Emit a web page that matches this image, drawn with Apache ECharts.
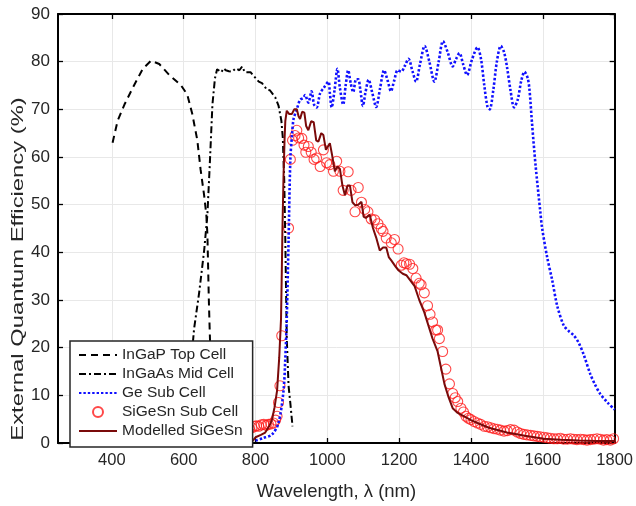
<!DOCTYPE html>
<html>
<head>
<meta charset="utf-8">
<script src="https://cdn.jsdelivr.net/npm/echarts@6/dist/echarts.min.js"></script>
<style>html,body{margin:0;padding:0;background:#fff}#c{width:636px;height:506px}</style>
</head>
<body>
<div id="c"></div>
<script>
const xTicks = [400, 600, 800, 1000, 1200, 1400, 1600, 1800];
const yTicks = [0, 10, 20, 30, 40, 50, 60, 70, 80, 90];
const legendNames = ['InGaP Top Cell', 'InGaAs Mid Cell', 'Ge Sub Cell', 'SiGeSn Sub Cell', 'Modelled SiGeSn'];
const yTitle = 'External Quantum Efficiency (%)';
const xTitle = 'Wavelength, \u03bb (nm)';

const inGaP = [[402,63],[416,67.6],[435,71],[458,74.5],[486,78.5],[509,80.2],[532,79.5],[560,77.2],[592,75.1],[610,73.1],[624,69],[638,63.5],[647,57.4],[657,51.9],[663,47.9],[666,43.8],[668,37],[670,30.1],[672,24.7],[676,15],[680,6],[684,0.5]];

const inGaAs = [[622,18],[629,24],[643,31.5],[657,40.4],[666,47.9],[672,57.4],[680,71],[687,76.5],[693,78.4],[705,77.8],[711,78.6],[717,78.2],[726,78],[735,77.9],[745,78.6],[755,78.2],[763,79],[770,77.8],[775,78.2],[786,77.8],[795,77],[809,75.8],[818,75.5],[832,74.1],[840,74],[855,72.5],[864,70.8],[872,67.6],[876,64],[880,55],[883,42.4],[887,22],[892,12],[897,8.3],[903,3.5]];

const geSub = [[800,0.5],[820,1],[846,1.8],[864,4.2],[878,11],[883,17.9],[887,26],[892,42.4],[897,59.5],[902,65],[906,68],[915,70],[924,72],[933,72.4],[938,73],[947,71.4],[956,73.8],[963,71],[970,70.4],[980,73.4],[990,74.5],[1003,75.8],[1007,73.4],[1012,70.4],[1020,74],[1028,78.5],[1035,74.5],[1044,71],[1051,75],[1058,78.2],[1065,75.5],[1072,73.6],[1080,76.3],[1086,76.3],[1092,74],[1099,70.7],[1106,73.5],[1115,76.2],[1125,73.5],[1136,70.5],[1147,74.5],[1158,78.2],[1168,76],[1177,73.8],[1186,76],[1196,78.2],[1206,77.9],[1215,79],[1226,80.6],[1237,78],[1247,75.8],[1258,79.5],[1271,83.3],[1284,80],[1298,75.8],[1310,80],[1322,84.3],[1335,82],[1349,79],[1358,80.5],[1368,81.8],[1378,79.5],[1389,77.2],[1403,80.5],[1418,83],[1428,80.5],[1437,75],[1446,70.5],[1452,70],[1462,74],[1472,80],[1483,83.3],[1492,82],[1500,79],[1510,74],[1520,70.4],[1530,72],[1540,76],[1549,77.9],[1558,76.5],[1563,74],[1570,67],[1580,58.1],[1593,48.5],[1598,45.1],[1612,39],[1626,34.2],[1640,28.8],[1658,24.7],[1672,23.5],[1686,22.6],[1700,21],[1714,18.5],[1732,14.5],[1745,12.3],[1760,10.3],[1780,8.5],[1800,7]];

const siGeSnMeas = [[783,3.0],[790,3.2],[797,3.5],[803,3.6],[809,3.5],[816,3.8],[823,3.9],[830,3.7],[836,3.9],[843,4.0],[850,4.2],[856,4.8],[860,5.6],[864,8.5],[868,12],[873,22.5],[892,45.1],[897,59.5],[903,63.5],[910,64.5],[915,65.6],[920,64.0],[929,63.9],[935,62.5],[940,61.0],[947,62.2],[955,61.0],[963,59.5],[970,59.8],[980,58.0],[989,61.5],[998,58.8],[1007,58.4],[1017,57.0],[1026,59.1],[1035,57.0],[1044,53],[1058,56.9],[1066,53],[1077,48.5],[1086,53.6],[1095,50.5],[1104,49.0],[1113,48.5],[1122,47.0],[1132,46.8],[1141,46.0],[1150,45.0],[1155,44.4],[1164,43.0],[1178,42.0],[1187,42.7],[1197,40.7],[1206,37.3],[1213,37.8],[1220,37.6],[1229,37.5],[1238,36.6],[1247,34.6],[1256,33.5],[1261,33.2],[1270,31.5],[1279,28.8],[1286,27],[1293,25.4],[1302,23.7],[1307,23.7],[1312,21.9],[1321,19.2],[1330,15.5],[1340,12.4],[1349,10.4],[1356,9.5],[1363,8.7],[1372,7.3],[1379,6.5],[1386,5.6],[1393,5.2],[1400,4.9],[1409,4.5],[1418,4.2],[1427,3.9],[1437,3.5],[1446,3.4],[1455,3.2],[1464,3.0],[1473,2.9],[1482,2.7],[1492,2.5],[1501,2.6],[1510,2.8],[1520,2.7],[1529,2.3],[1538,2.0],[1547,1.8],[1556,1.7],[1566,1.6],[1575,1.5],[1584,1.4],[1593,1.3],[1603,1.2],[1612,1.1],[1621,1.0],[1631,0.9],[1640,0.9],[1649,1.0],[1658,0.8],[1668,0.8],[1677,0.9],[1686,0.8],[1695,0.7],[1705,0.8],[1714,0.7],[1723,0.6],[1732,0.7],[1742,0.8],[1751,0.9],[1760,0.8],[1769,0.6],[1778,0.7],[1788,0.6],[1797,0.9]];

const siGeSnModel = [[790,0.3],[800,1.2],[815,1.7],[827,2.2],[838,3.5],[846,4.9],[853,7.5],[860,11],[866,17.9],[871,26],[873,35],[875,45],[878,56],[881,64],[883,67.6],[887,69.7],[894,69],[901,69],[908,70],[915,70],[920,68.5],[924,68],[930,69.5],[936,69.3],[941,66.5],[947,65.6],[955,67.5],[962,67.3],[969,63.5],[975,63.2],[983,65],[989,64.6],[996,61.5],[1001,61.5],[1007,62.9],[1013,60.5],[1021,57],[1028,58],[1035,57.5],[1042,54],[1049,52],[1056,54],[1063,54],[1070,50.5],[1077,49.9],[1086,50],[1095,50.6],[1101,47.5],[1107,47.2],[1118,47.9],[1127,45.1],[1136,43.1],[1146,40.4],[1155,41],[1164,41],[1171,39],[1178,38.3],[1190,37],[1197,36.3],[1210,35.5],[1220,35.2],[1232,34],[1243,32.9],[1256,30],[1270,27.4],[1282,24.5],[1293,21.9],[1307,19.2],[1316,16],[1326,12.4],[1338,9.5],[1349,7.3],[1363,6.3],[1381,5.6],[1400,4.8],[1418,4.2],[1450,3.2],[1500,2.2],[1550,1.5],[1603,0.9],[1650,0.7],[1700,0.5],[1750,0.4],[1800,0.4]];

const FONT = 'Liberation Sans';
const TXT = '#262626';
const chart = echarts.init(document.getElementById('c'), null, {renderer: 'canvas'});

const tickStyle = {inside: true, length: 5, lineStyle: {color: '#000', width: 1.3}};
const hideSym = {opacity: 0};
chart.setOption({
  animation: false,
  backgroundColor: '#fff',
  grid: {left: 58, right: 19, top: 14, bottom: 52, containLabel: false},
  graphic: [{
    type: 'text', x: 18, y: 269, rotation: Math.PI / 2, scaleX: 1.4, z: 10,
    style: {text: yTitle, fill: TXT, font: '17px "Liberation Sans"', textAlign: 'center', textVerticalAlign: 'middle'}
  }],
  legend: {
    orient: 'vertical', left: 70, top: 341,
    padding: [6, 10, 8, 8],
    itemWidth: 38, itemHeight: 10, itemGap: 3,
    backgroundColor: '#fff', borderColor: '#262626', borderWidth: 1.5,
    textStyle: {fontFamily: FONT, fontSize: 15.5, color: TXT},
    data: [
      {name: legendNames[0], itemStyle: hideSym},
      {name: legendNames[1], itemStyle: hideSym},
      {name: legendNames[2], itemStyle: hideSym},
      {name: legendNames[3]},
      {name: legendNames[4], itemStyle: hideSym}
    ]
  },
  xAxis: [{
    type: 'value', min: 250, max: 1800, position: 'bottom',
    name: xTitle, nameLocation: 'middle', nameGap: 39,
    nameTextStyle: {fontFamily: FONT, fontSize: 18.5, color: TXT},
    axisLine: {onZero: false, lineStyle: {color: '#000', width: 2}},
    axisTick: Object.assign({customValues: xTicks}, tickStyle),
    axisLabel: {customValues: xTicks, margin: 9, fontFamily: FONT, fontSize: 16.5, color: TXT, formatter: v => String(v)},
    splitLine: {show: true, lineStyle: {color: '#e8e8e8', width: 1}}
  }, {
    type: 'value', min: 250, max: 1800, position: 'top',
    axisLine: {onZero: false, lineStyle: {color: '#000', width: 2}},
    axisTick: Object.assign({customValues: xTicks}, tickStyle),
    axisLabel: {show: false}, splitLine: {show: false}
  }],
  yAxis: [{
    type: 'value', min: 0, max: 90, interval: 10, position: 'left',
    axisLine: {show: true, onZero: false, lineStyle: {color: '#000', width: 2}},
    axisTick: Object.assign({show: true, customValues: yTicks}, tickStyle),
    axisLabel: {customValues: yTicks, margin: 8, fontFamily: FONT, fontSize: 17, color: TXT},
    splitLine: {show: true, lineStyle: {color: '#e8e8e8', width: 1}}
  }, {
    type: 'value', min: 0, max: 90, interval: 10, position: 'right',
    axisLine: {show: true, onZero: false, lineStyle: {color: '#000', width: 2}},
    axisTick: Object.assign({show: true}, tickStyle),
    axisLabel: {show: false}, splitLine: {show: false}
  }],
  series: [
    {name: legendNames[0], type: 'line', data: inGaP, symbol: 'none',
      lineStyle: {color: '#000', width: 2, type: [7, 5]}, itemStyle: {color: '#000'}},
    {name: legendNames[1], type: 'line', data: inGaAs, symbol: 'none',
      lineStyle: {color: '#000', width: 2, type: [7, 3, 2, 3]}, itemStyle: {color: '#000'}},
    {name: legendNames[2], type: 'line', data: geSub, symbol: 'none', smooth: 0.3,
      lineStyle: {color: '#1010ff', width: 2.6, type: [2.4, 2]}, itemStyle: {color: '#1010ff'}},
    {name: legendNames[3], type: 'scatter', data: siGeSnMeas, symbol: 'circle', symbolSize: 10,
      itemStyle: {color: 'rgba(255,255,255,0)', borderColor: '#ff1a1a', borderWidth: 1.1}},
    {name: legendNames[4], type: 'line', data: siGeSnModel, symbol: 'none',
      lineStyle: {color: '#7a0a0a', width: 2}, itemStyle: {color: '#7a0a0a'}}
  ]
});
</script>
</body>
</html>
